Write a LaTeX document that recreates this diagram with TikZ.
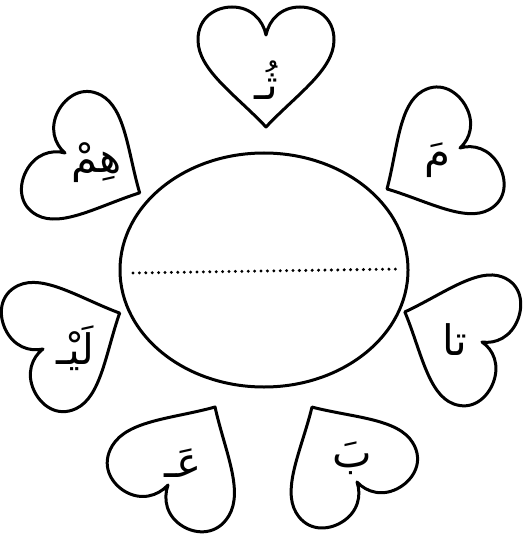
\documentclass[tikz,border=0pt]{standalone}
\usepackage{fontspec}
\newfontfamily\arabicfont[Script=Arabic]{DejaVu Sans}
\TeXXeTstate=1
\usetikzlibrary{shapes.geometric}
\begin{document}
\begin{tikzpicture}[x=1pt,y=-1pt,
  heartline/.style={line width=3pt, line join=round},
  lbl/.style={font=\arabicfont\fontsize{42}{48}\selectfont, inner sep=0pt},
  dotline/.style={line width=3.3pt, line cap=round, dash pattern=on 0pt off 6.4pt},
  heart/.pic={
    \draw[heartline] (0,92) .. controls (-30,60) and (-68,35) .. (-68,5)
      .. controls (-68,-18) and (-50,-28) .. (-34,-28)
      .. controls (-15,-28) and (-3,-15) .. (0,0)
      .. controls (3,-15) and (15,-28) .. (34,-28)
      .. controls (50,-28) and (68,-18) .. (68,5)
      .. controls (68,35) and (30,60) .. (0,92) -- cycle;
  }]
\useasboundingbox (0,0) rectangle (522,537);
\fill[white] (0,0) rectangle (522,537);
% hearts
\pic[rotate=0] at (266,35) {heart};
\pic[rotate=-60.7, yscale=0.91] at (460,148) {heart};
\pic[rotate=61.9, yscale=0.92] at (65,153) {heart};
\pic[rotate=-111.3, yscale=0.9] at (482,342) {heart};
\pic[rotate=115.1, yscale=0.92] at (43,349) {heart};
\pic[rotate=-149, yscale=0.95] at (357,482) {heart};
\pic[rotate=148.9, yscale=0.99] at (168,485) {heart};
% central ellipse
\node[draw, ellipse, line width=3pt, minimum width=288pt, minimum height=234pt, inner sep=0pt] (oval) at (264,270) {};
\coordinate (d1) at (133,273);
\coordinate (d2) at (398,269);
\draw[dotline] (d1) -- (d2);
% letters
\node[lbl] (t1) at (266,80) {\beginR ثُـ\endR};
\node[lbl] (t2) at (437,160) {\beginR مَ\endR};
\node[lbl] (t3) at (97,163) {\beginR هِمْ\endR};
\node[lbl] (t4) at (455,340) {\beginR تا\endR};
\node[lbl] (t5) at (75,348) {\beginR لَيْـ\endR};
\node[lbl] (t6) at (352,458) {\beginR بَ\endR};
\node[lbl] (t7) at (183,463) {\beginR عَـ\endR};
\end{tikzpicture}
\end{document}
